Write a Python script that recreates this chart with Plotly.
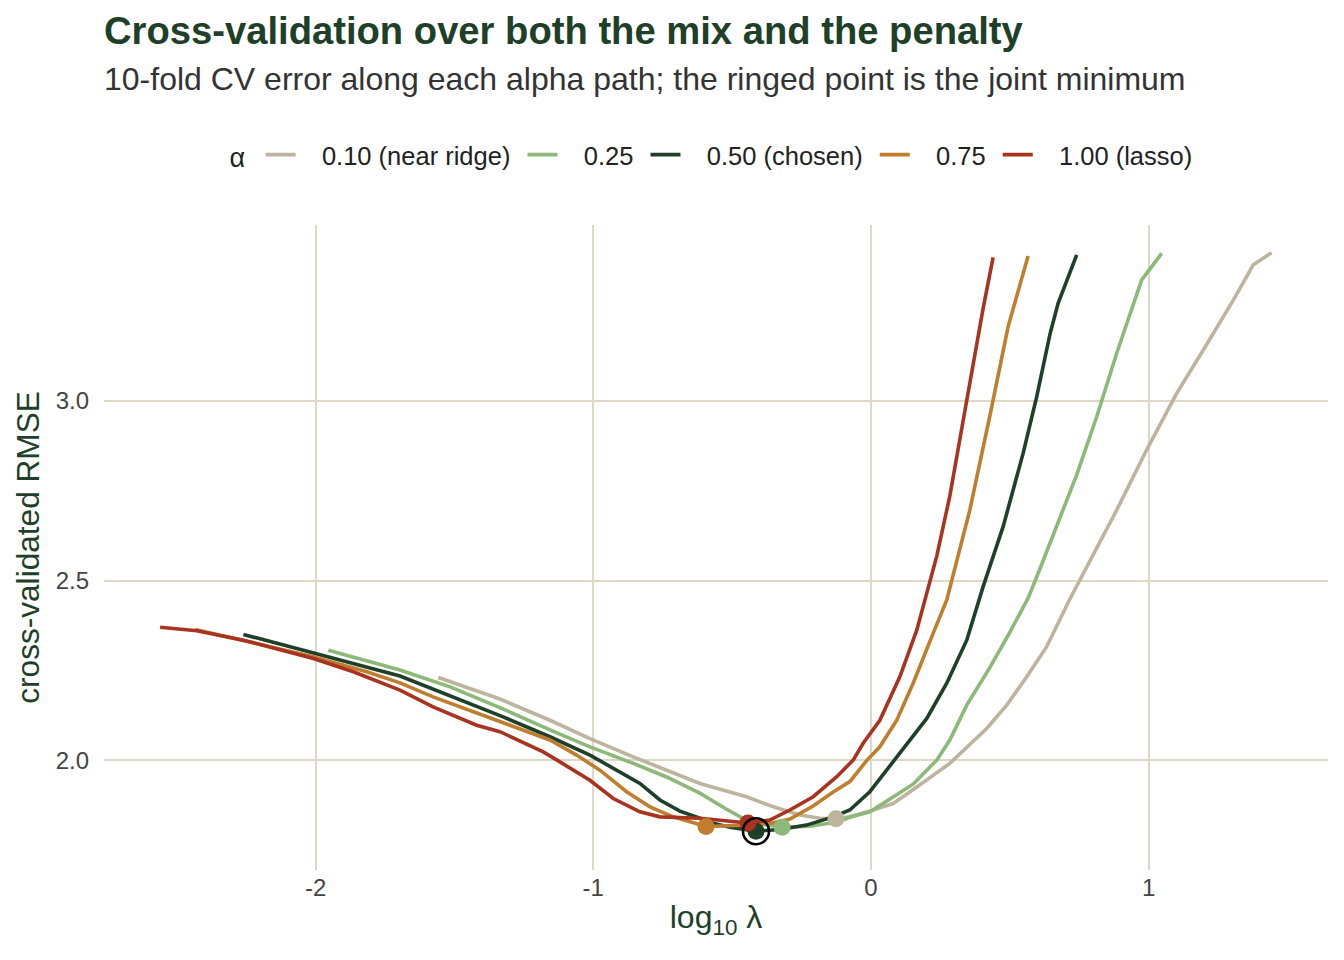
import plotly.graph_objects as go

# ---- data (log10 lambda, CV RMSE) ----
alpha_labels = ["0.10 (near ridge)", "0.25", "0.50 (chosen)", "0.75", "1.00 (lasso)"]
colors = ["#BDB49E", "#8CB878", "#1E3F28", "#C07D2D", "#A9331F"]

x_a010 = [-1.558, -1.336, -1.156, -1.012, -0.856, -0.736, -0.616, -0.448, -0.352, -0.256, -0.184, -0.126,
          -0.076, -0.004, 0.080, 0.140, 0.284, 0.417, 0.489, 0.561, 0.633, 0.716, 0.765, 0.885, 0.993,
          1.101, 1.197, 1.305, 1.377, 1.443]
y_a010 = [2.230, 2.170, 2.111, 2.060, 2.009, 1.972, 1.935, 1.898, 1.870, 1.847, 1.838, 1.837,
          1.842, 1.858, 1.879, 1.911, 1.991, 2.088, 2.153, 2.232, 2.316, 2.448, 2.520, 2.696, 2.864,
          3.021, 3.142, 3.281, 3.379, 3.413]

x_a025 = [-1.954, -1.696, -1.516, -1.336, -1.156, -1.012, -0.856, -0.736, -0.616, -0.526, -0.436, -0.320,
          -0.220, -0.126, -0.076, -0.004, 0.080, 0.152, 0.237, 0.284, 0.345, 0.429, 0.501, 0.566, 0.597,
          0.669, 0.741, 0.813, 0.885, 0.975, 1.047]
y_a025 = [2.306, 2.251, 2.204, 2.146, 2.084, 2.037, 1.991, 1.953, 1.908, 1.866, 1.827, 1.813,
          1.816, 1.827, 1.841, 1.856, 1.897, 1.933, 2.000, 2.056, 2.153, 2.259, 2.357, 2.451, 2.510,
          2.650, 2.794, 2.956, 3.133, 3.337, 3.411]

x_a050 = [-2.260, -2.008, -1.696, -1.336, -1.156, -1.012, -0.916, -0.832, -0.760, -0.688, -0.616, -0.568,
          -0.508, -0.414, -0.328, -0.232, -0.136, -0.076, -0.004, 0.093, 0.201, 0.273, 0.345, 0.404,
          0.476, 0.548, 0.597, 0.645, 0.674, 0.741]
y_a050 = [2.350, 2.297, 2.234, 2.124, 2.065, 2.014, 1.972, 1.935, 1.889, 1.858, 1.838, 1.824,
          1.813, 1.802, 1.807, 1.819, 1.842, 1.861, 1.912, 2.009, 2.116, 2.214, 2.334, 2.483,
          2.650, 2.854, 3.012, 3.187, 3.272, 3.407]

x_a075 = [-2.434, -2.008, -1.816, -1.696, -1.577, -1.336, -1.156, -1.060, -0.976, -0.880, -0.796, -0.712,
          -0.594, -0.448, -0.356, -0.292, -0.208, -0.136, -0.076, -0.014, 0.032, 0.093, 0.152, 0.224,
          0.273, 0.296, 0.356, 0.429, 0.494, 0.566]
y_a075 = [2.364, 2.288, 2.246, 2.215, 2.176, 2.107, 2.056, 2.014, 1.972, 1.912, 1.870, 1.842,
          1.815, 1.819, 1.825, 1.836, 1.872, 1.911, 1.940, 2.000, 2.037, 2.111, 2.214, 2.353,
          2.446, 2.515, 2.696, 2.961, 3.207, 3.404]

x_a100 = [-2.560, -2.428, -2.260, -2.008, -1.864, -1.696, -1.577, -1.420, -1.336, -1.180, -1.120, -1.012,
          -0.928, -0.832, -0.760, -0.616, -0.443, -0.364, -0.292, -0.208, -0.124, -0.064, -0.028, 0.032,
          0.104, 0.165, 0.237, 0.284, 0.332, 0.368, 0.404, 0.440]
y_a100 = [2.370, 2.360, 2.334, 2.283, 2.246, 2.195, 2.148, 2.097, 2.079, 2.023, 1.995, 1.944,
          1.893, 1.856, 1.842, 1.838, 1.825, 1.833, 1.861, 1.898, 1.953, 2.000, 2.047, 2.111,
          2.232, 2.362, 2.568, 2.735, 2.945, 3.105, 3.258, 3.400]

xs = [x_a010, x_a025, x_a050, x_a075, x_a100]
ys = [y_a010, y_a025, y_a050, y_a075, y_a100]
chosen_index = 2

x_ticks = [-2, -1, 0, 1]
y_ticks = [2.0, 2.5, 3.0]
y_tick_text = ["2.0", "2.5", "3.0"]

title_text = "Cross-validation over both the mix and the penalty"
subtitle_text = "10-fold CV error along each alpha path; the ringed point is the joint minimum"

FONT = "Liberation Sans, Arial, Helvetica, sans-serif"
DARK = "#1E3F28"
PAD = "\u00a0\u00a0\u00a0"

fig = go.Figure()
for lab, col, xv, yv in zip(alpha_labels, colors, xs, ys):
    fig.add_trace(go.Scatter(x=xv, y=yv, mode="lines", name=PAD + lab + "\u00a0",
                             line=dict(color=col, width=3.6), hoverinfo="skip"))

# minimum point of each path
for lab, col, xv, yv in zip(alpha_labels, colors, xs, ys):
    i = yv.index(min(yv))
    fig.add_trace(go.Scatter(x=[xv[i]], y=[yv[i]], mode="markers", showlegend=False,
                             marker=dict(color=col, size=17, line=dict(width=0))))

# ring around the joint minimum
ci = ys[chosen_index].index(min(ys[chosen_index]))
fig.add_trace(go.Scatter(x=[xs[chosen_index][ci]], y=[ys[chosen_index][ci]], mode="markers",
                         showlegend=False,
                         marker=dict(symbol="circle-open", color="black", size=26,
                                     line=dict(width=2.6, color="black"))))

fig.update_layout(
    width=1344, height=960,
    margin=dict(l=104, r=16, t=225, b=90),
    paper_bgcolor="white", plot_bgcolor="white",
    font=dict(family=FONT, color="#333333"),
    annotations=[
        dict(text="<b>" + title_text + "</b>", xref="paper", yref="paper", x=0, y=1.3008,
             xanchor="left", yanchor="middle", showarrow=False, xshift=-2,
             font=dict(size=38.2, color=DARK, family=FONT)),
        dict(text=subtitle_text, xref="paper", yref="paper", x=0, y=1.2264,
             xanchor="left", yanchor="middle", showarrow=False, xshift=-2,
             font=dict(size=32, color="#333333", family=FONT)),
    ],
    legend=dict(orientation="h", x=0.5, xanchor="center", y=1.1085, yanchor="middle",
                title=dict(text="α ", font=dict(size=27, color="#222222")),
                font=dict(size=25.5, color="#222222"), traceorder="normal"),
    xaxis=dict(range=[-2.762, 1.646], tickvals=x_ticks, ticktext=[str(t) for t in x_ticks],
               showgrid=True, gridcolor="#DDD8C8", gridwidth=1.6, zeroline=False, showline=False,
               tickfont=dict(size=24, color="#444444"), ticks="", ticklabelstandoff=1,
               title=dict(text="log<sub>10</sub> λ", font=dict(size=32, color=DARK), standoff=5)),
    yaxis=dict(range=[1.694, 3.490], tickvals=y_ticks, ticktext=y_tick_text,
               showgrid=True, gridcolor="#DDD8C8", gridwidth=1.6, zeroline=False, showline=False,
               tickfont=dict(size=24, color="#444444"), ticks="", ticklabelstandoff=14,
               title=dict(text="cross-validated RMSE", font=dict(size=31.6, color=DARK), standoff=6)),
)

fig.write_html("out.html")
